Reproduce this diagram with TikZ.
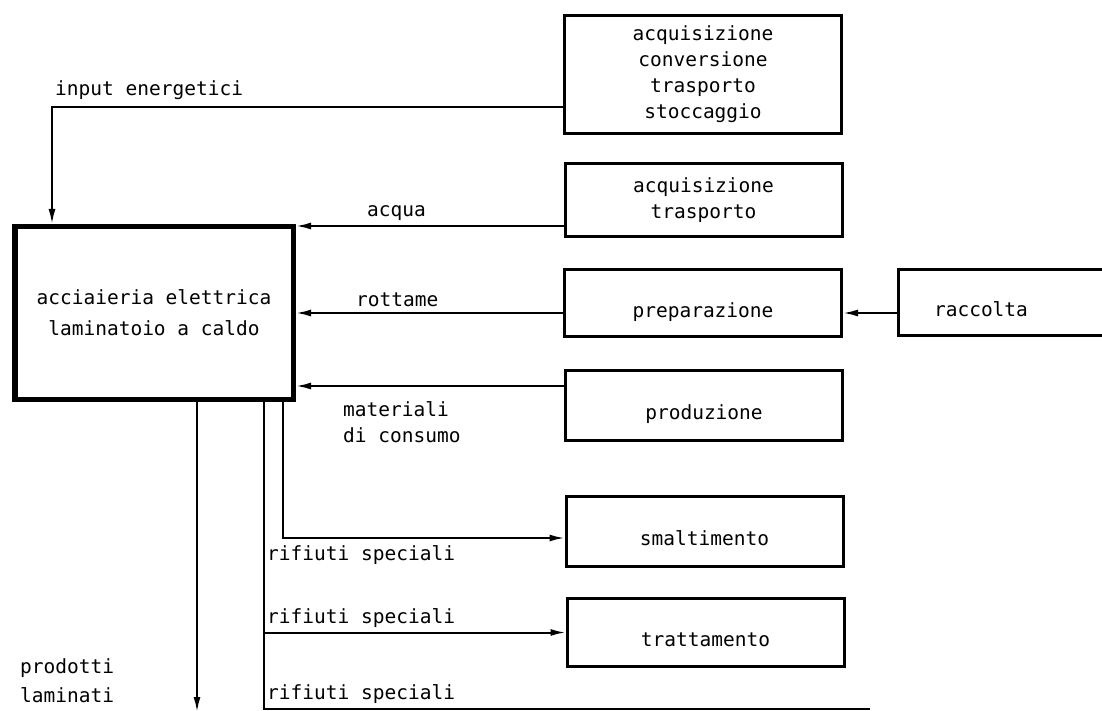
\documentclass[tikz,border=0pt]{standalone}
\usepackage{fontspec}
\setmonofont{DejaVu Sans Mono}
\usetikzlibrary{arrows.meta}

\begin{document}
\begin{tikzpicture}[x=1pt, y=-1pt,
	font=\ttfamily\fontsize{19.5}{26}\selectfont,
	box/.style={draw, line width=3pt, inner sep=0pt, align=center, minimum width=277pt},
	oneline/.style={text height=32pt, text depth=4pt},
	flow/.style={line width=2pt, -{Latex[length=15pt,width=7pt]}},
	plain/.style={line width=2pt},
	lbl/.style={anchor=base west, inner sep=0pt, align=left}]
	\useasboundingbox (0,0) rectangle (1102,711);
	\clip (0,0) rectangle (1102,711);

	% Nodes
	\node[box, line width=5.5pt, minimum width=278.5pt, minimum height=172.5pt] (acc) at (154,313) {acciaieria elettrica\\[5pt]laminatoio a caldo};
	\node[box, minimum height=118pt] (eng) at (703,74.5) {acquisizione\\conversione\\trasporto\\stoccaggio};
	\node[box, minimum height=73pt] (acq) at (703.5,200) {acquisizione\\trasporto};
	\node[box, oneline, minimum height=67pt] (prep) at (703,303) {preparazione};
	\node[box, oneline, minimum height=66pt, minimum width=226pt, align=left] (racc) at (1011,302.5) {raccolta\hspace{60pt}};
	\node[box, oneline, minimum height=70pt] (prod) at (704,405.5) {produzione};
	\node[box, oneline, minimum height=70pt] (smal) at (704.5,531.5) {smaltimento};
	\node[box, oneline, minimum height=68pt] (tratt) at (705.5,632.5) {trattamento};

	\coordinate (ie) at (52,107);
	\coordinate (pl) at (197,712);
	\coordinate (rs) at (870,709);

	% Labels
	\node[lbl] (l1) at (55,96) {input energetici};
	\node[lbl] (l2) at (367,217) {acqua};
	\node[lbl] (l3) at (356,306) {rottame};
	\node[lbl] (l4) at (343,442) {materiali\\di consumo};
	\node[lbl] (l5) at (267,560) {rifiuti speciali};
	\node[lbl] (l6) at (267,623) {rifiuti speciali};
	\node[lbl] (l7) at (267,699) {rifiuti speciali};
	\node[lbl] (l8) at (20,702) {prodotti\\[3pt]laminati};

	% Arrows
	\draw[flow] (eng.west |- ie) -- (ie) -- (acc.north -| ie);
	\draw[flow] (acq.west |- 0,226) -- (acc.east |- 0,226);
	\draw[flow] (prep.west |- acc.east) -- (acc.east);
	\draw[flow] (racc.west |- acc.east) -- (prep.east |- acc.east);
	\draw[flow] (prod.west |- 0,386) -- (acc.east |- 0,386);
	\draw[flow] (acc.south -| 283,0) |- (smal.west |- 0,538);
	\draw[flow] (acc.south -| 264,0) |- (tratt.west);
	\draw[plain] (acc.south -| 264,0) |- (rs);
	\draw[flow] (acc.south -| pl) -- (pl);
\end{tikzpicture}
\end{document}
